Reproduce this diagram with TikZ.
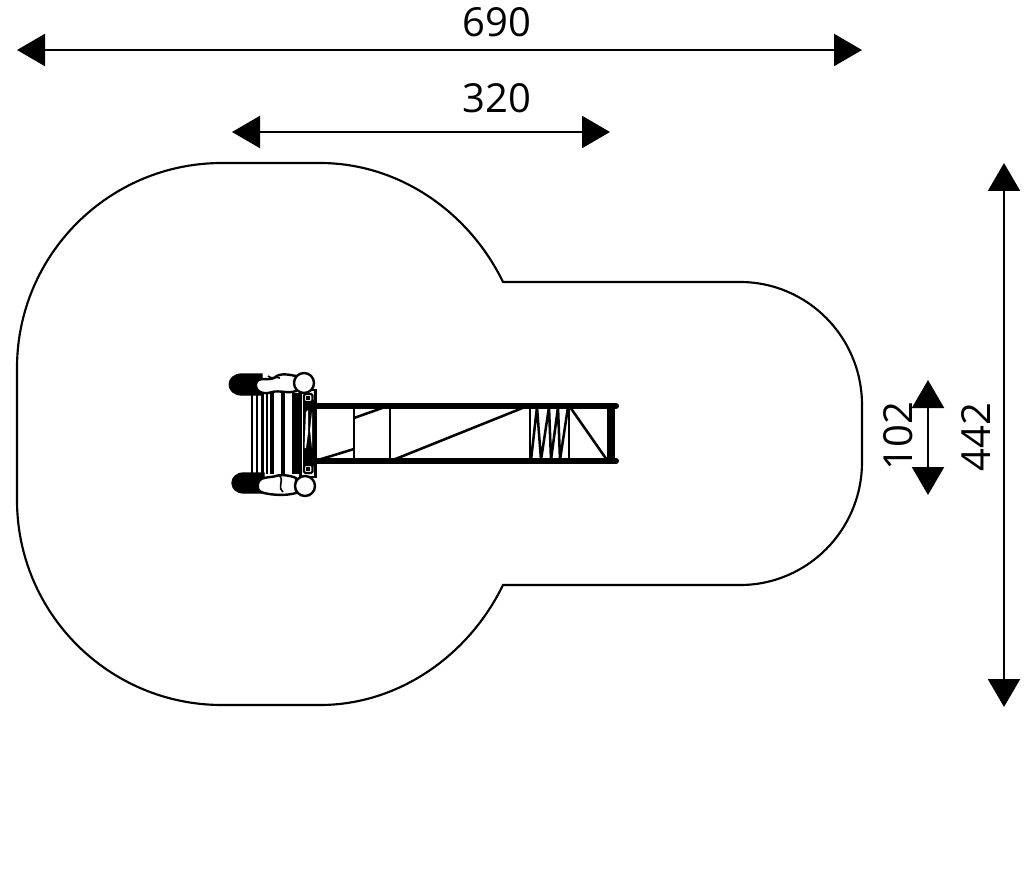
\documentclass[tikz,border=0pt]{standalone}
\usepackage{fontspec}
\setmainfont{Open Sans}
\usetikzlibrary{arrows.meta}
\tikzset{
 x=0.75pt,y=-0.75pt,
 dim/.style={line width=1.7pt,{Triangle[length=21pt,width=24pt]}-{Triangle[length=21pt,width=24pt]}},
 dimtext/.style={font=\fontsize{30}{30}\selectfont,inner sep=0pt},
 outline/.style={line width=1.6pt},
 rail/.style={line width=4.6pt},
 brace/.style={line width=1.8pt},
 thin bar/.style={line width=1.9pt,line join=bevel},
 blob/.style={fill=black,draw=black,line width=1pt},
 figure/.style={fill=white,draw=black,line width=1.8pt},
}
\begin{document}
\begin{tikzpicture}
\useasboundingbox (0,0) rectangle (1024,870);
% surface outline
\draw[outline] (503,282) -- (740,282)
  .. controls (807.4,282) and (862,337) .. (862,405) -- (862,462)
  .. controls (862,530) and (807.4,585) .. (740,585) -- (503,585)
  .. controls (469,655) and (399,705) .. (320,705) -- (222,705)
  .. controls (108.8,705) and (17,613.2) .. (17,500) -- (17,368)
  .. controls (17,254.8) and (108.8,163) .. (222,163) -- (320,163)
  .. controls (399,163) and (469,212) .. (503,282) -- cycle;
% dimensions
\coordinate (a1) at (17,50); \coordinate (a2) at (862,50);
\coordinate (b1) at (232,132); \coordinate (b2) at (610,132);
\coordinate (c1) at (1004,163); \coordinate (c2) at (1004,707);
\coordinate (d1) at (928,380); \coordinate (d2) at (928,495);
\draw[dim] (a1) -- (a2);
\draw[dim] (b1) -- (b2);
\draw[dim] (c1) -- (c2);
\draw[dim] (d1) -- (d2);
\node[dimtext] (t690) at (497,22) {690};
\node[dimtext] (t320) at (497,98) {320};
\node[dimtext,rotate=90] (t102) at (898,436) {102};
\node[dimtext,rotate=90] (t442) at (976,437) {442};
% slide rails
\foreach \x in {354,390,530,569} \draw[thin bar] (\x,406) -- (\x,461);
\draw[thin bar] (318,460) -- (354,449);
\draw[thin bar] (354,418) -- (385,407);
\draw[thin bar] (393,460) -- (525,407);
\draw[thin bar] (531,460) -- (537,407) -- (541,460) -- (549,407) -- (551,460) -- (558,407) -- (560,460) -- (568,407);
\draw[thin bar] (570,407) -- (607,460);
\draw[rail] (312,406) -- (616,406);
\draw[rail] (312,461) -- (616,461);
\fill (616,406) circle (3);
\fill (616,461) circle (3);
\fill (607,406) rectangle (615,461);
% stair
\foreach \x in {252,257,262.5,267} \draw[line width=2pt] (\x,393) -- (\x,474);
\fill (270,393) rectangle (274,474);
\draw[line width=2.4pt] (283,393) -- (283,474);
\fill (292,393) rectangle (299,474);
\draw[brace] (300.5,390) -- (315.5,390) -- (315.5,477) -- (300.5,477) -- cycle;
\fill (303,400) rectangle (316,466);
\fill[white] (306,412) -- (308,410) -- (308,433) -- (306,448) -- (304.5,448) -- cycle;
\fill[white] (310,430) -- (312,412) -- (312,440) -- (312,448) -- cycle;
\draw[line width=1.6pt,fill=white,rounded corners=1pt] (304,394) rectangle (312.5,402);
\draw[line width=1.6pt,fill=white,rounded corners=1pt] (304,465) rectangle (312.5,473);
\fill (306,396) rectangle (310,400);
\fill (306,467) rectangle (310,471);
% top handle and figure
\draw[blob] (262,374) -- (242,374) .. controls (225,374) and (225,395) .. (242,395) -- (262,395) -- cycle;
\draw[blob] (264,473) -- (244,473) .. controls (228,473) and (228,493) .. (244,493) -- (264,493) -- cycle;
\draw[figure] (256,384) .. controls (257,376) and (268,381) .. (274,378)
  .. controls (280,372) and (290,375) .. (296,376) -- (296,391)
  .. controls (288,394) and (280,390) .. (272,392) .. controls (264,395) and (255,392) .. (256,384) -- cycle;
\draw[figure] (258,484) .. controls (259,476) and (270,478) .. (276,476)
  .. controls (282,474) and (292,476) .. (296,478) -- (296,493)
  .. controls (286,496) and (272,495) .. (264,493) .. controls (259,492) and (257,489) .. (258,484) -- cycle;
\draw[line width=1.2pt] (280,476) .. controls (284,482) and (277,486) .. (283,492);
\draw[line width=1.2pt] (268,376) .. controls (272,380) and (276,376) .. (280,378);
\draw[figure] (304,383) circle (10);
\draw[figure] (305,486) circle (10);
\end{tikzpicture}
\end{document}
